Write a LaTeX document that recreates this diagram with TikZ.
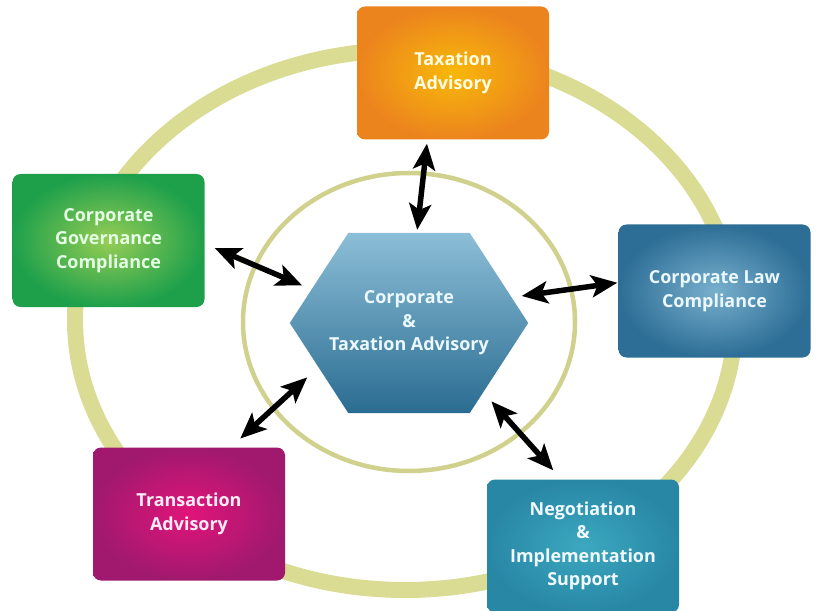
\documentclass[tikz,border=0pt]{standalone}
\usepackage{fontspec}
\setmainfont{Open Sans}
\usetikzlibrary{arrows.meta,shapes.symbols}

\definecolor{ringcol}{RGB}{218,220,148}
\definecolor{taxin}{RGB}{248,184,10}
\definecolor{taxout}{RGB}{236,132,30}
\definecolor{govin}{RGB}{150,205,85}
\definecolor{govout}{RGB}{30,160,75}
\definecolor{lawin}{RGB}{120,175,205}
\definecolor{lawout}{RGB}{45,110,150}
\definecolor{hextop}{RGB}{140,190,215}
\definecolor{hexbot}{RGB}{42,108,145}
\definecolor{trin}{RGB}{225,20,122}
\definecolor{trout}{RGB}{160,25,110}
\definecolor{negin}{RGB}{60,168,192}
\definecolor{negout}{RGB}{40,135,165}

\tikzset{
    box/.style = {rectangle, rounded corners = 8bp, minimum width = 192bp,
        minimum height = 133bp, align = center, inner sep = 0pt,
        font = \fontsize{18}{23.5}\selectfont\bfseries},
    tip/.tip = {Stealth[length = 26bp, width = 22bp, inset = 6bp]},
    arr/.style = {tip-tip, line width = 5.5bp, black}
}

\begin{document}
\begin{tikzpicture}[x = 1bp, y = -1bp]
        \useasboundingbox (0, 0) rectangle (819, 611);

        \draw [ringcol, line width = 16bp] (405, 320) ellipse (330 and 270);
        \draw [ringcol!95!black, line width = 4.5bp] (409, 322) ellipse (166 and 149);

        \node [signal, signal to = east and west, signal pointer angle = 114,
            minimum height = 180bp, inner xsep = -19bp, inner ysep = 0pt,
            top color = hextop, bottom color = hexbot, align = center,
            text = white!92!cyan, font = \fontsize{18}{23.5}\selectfont\bfseries]
            (hex) at (409, 323) {Corporate\\\&\\Taxation Advisory};

        \node [box, inner color = taxin, outer color = taxout, text = yellow!12!white]
            (tax) at (453, 73) {Taxation\\Advisory};
        \node [box, inner color = govin, outer color = govout, text = green!10!white]
            (gov) at (108.5, 240.5) {Corporate\\Governance\\Compliance};
        \node [box, inner color = lawin, outer color = lawout, text = white!92!cyan]
            (law) at (714.5, 291) {Corporate Law\\Compliance};
        \node [box, inner color = trin, outer color = trout, text = white!92!magenta]
            (trans) at (189, 514) {Transaction\\Advisory};
        \node [box, inner color = negin, outer color = negout, text = white!94!cyan]
            (neg) at (583, 546) {Negotiation\\\&\\Implementation\\Support};

        \draw [arr, shorten <= 4bp, shorten >= 3bp] (tax.-111) -- (hex.85);
        \draw [arr, shorten <= 11bp, shorten >= 10bp] (gov.-2) -- (hex.161);
        \draw [arr, shorten <= 1bp, shorten >= 10bp] (law.175) -- (hex.14);
        \draw [arr, shorten <= 13bp, shorten >= 15bp] (trans.58) -- (hex.206);
        \draw [arr, shorten <= 12bp, shorten >= 12bp] (neg.108) -- (hex.-43);
    \end{tikzpicture}
\end{document}
